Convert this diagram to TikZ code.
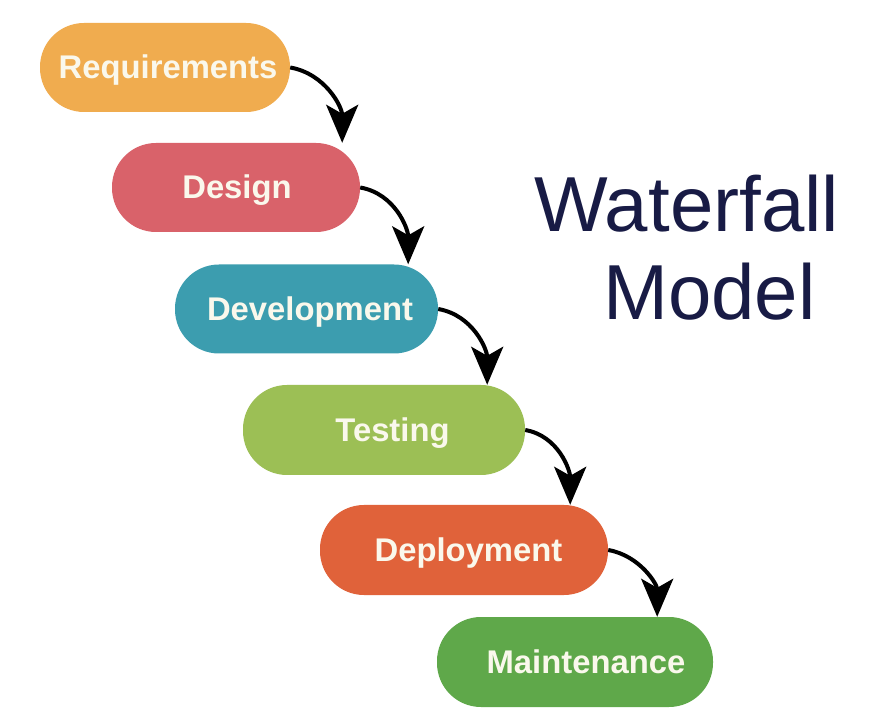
\documentclass[tikz,border=0pt]{standalone}
\usepackage{fontspec}
\setmainfont{Liberation Sans}
\usetikzlibrary{arrows.meta}
\definecolor{creq}{HTML}{F0AC4F}
\definecolor{cdes}{HTML}{D9626A}
\definecolor{cdev}{HTML}{3C9DAF}
\definecolor{ctst}{HTML}{9CBF55}
\definecolor{cdep}{HTML}{E0623A}
\definecolor{cmnt}{HTML}{5FA84A}
\definecolor{ctxt}{HTML}{FAF8EC}
\definecolor{ctitle}{HTML}{181B45}
\begin{document}
\begin{tikzpicture}[x=1pt,y=1pt,
  pill/.style={rectangle, rounded corners=44pt, inner sep=0pt, minimum height=89pt,
    text=ctxt, font=\bfseries\fontsize{32.8}{38}\selectfont, text height=23pt, text depth=0pt},
  arr/.style={line width=4pt, black, -{Stealth[length=38pt,width=32pt,inset=9pt]}},
  titletext/.style={anchor=base west, inner sep=0pt, text=ctitle, font=\fontsize{78}{82}\selectfont}]
\useasboundingbox (0,0) rectangle (886,726);
\fill[white] (0,0) rectangle (886,726);
\node[pill, fill=creq, minimum width=250pt] (req) at (165,658.5) {\hspace*{6pt}Requirements};
\node[pill, fill=cdes, minimum width=248pt] (des) at (236,538.5) {\hspace*{2pt}Design};
\node[pill, fill=cdev, minimum width=263pt] (dev) at (306.5,417) {\hspace*{7pt}Development};
\node[pill, fill=ctst, minimum width=282pt, minimum height=90pt] (tst) at (384,296) {\hspace*{17pt}Testing};
\node[pill, fill=cdep, minimum width=288pt, minimum height=90pt] (dep) at (464,176) {\hspace*{9pt}Deployment};
\node[pill, fill=cmnt, minimum width=276pt, minimum height=90pt] (mnt) at (575,64) {\hspace*{22pt}Maintenance};
\draw[arr] (req.east) to[out=-10,in=90] ([xshift=52pt]req.east |- des.north);
\draw[arr] (des.east) to[out=-10,in=90] ([xshift=48pt]des.east |- dev.north);
\draw[arr] (dev.east) to[out=-10,in=90] ([xshift=49pt]dev.east |- tst.north);
\draw[arr] (tst.east) to[out=-10,in=90] ([xshift=45pt]tst.east |- dep.north);
\draw[arr] (dep.east) to[out=-10,in=90] ([xshift=49pt]dep.east |- mnt.north);
\node[titletext] (t1) at (534,494) {Waterfall};
\node[titletext] (t2) at (603,406) {Model};
\end{tikzpicture}
\end{document}
